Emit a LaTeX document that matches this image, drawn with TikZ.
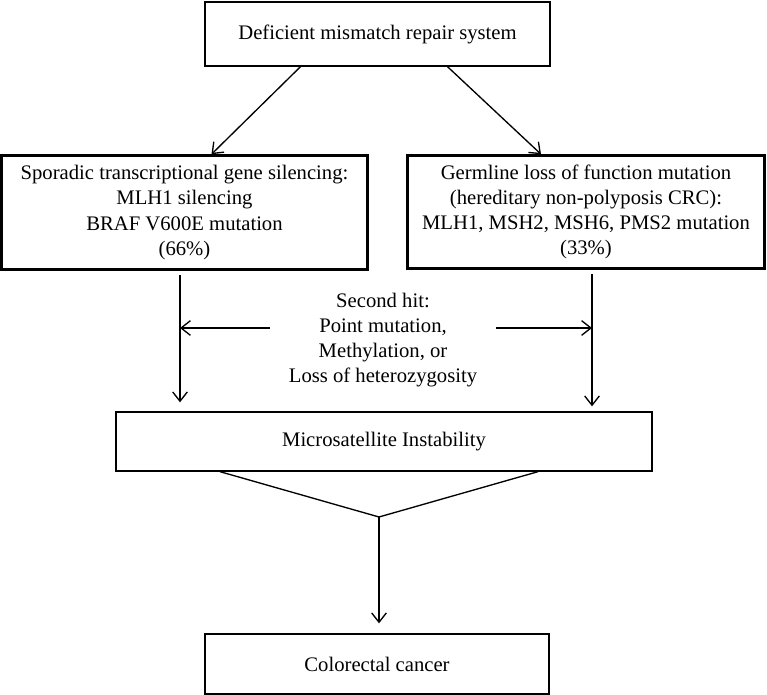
\documentclass[tikz,border=0pt]{standalone}
\usepackage{fontspec}
\setmainfont{Liberation Serif}
\usepackage{tikz}
\usetikzlibrary{positioning,calc,arrows.meta}

\tikzset{
    box/.style={draw, line width=1pt, inner sep=0pt, align=center},
    thickbox/.style={box, line width=1.9pt},
    link/.style={line width=1pt}
}

\begin{document}
\begin{tikzpicture}[x=0.75pt, y=-0.75pt, >={Straight Barb[length=7pt,width=11pt]},
    font=\fontsize{15.5}{18.8}\selectfont]
    \useasboundingbox (0,0) rectangle (767,695);

    % boxes
    \node[box, minimum width=345*0.75pt, minimum height=64*0.75pt] (mmr) at (377.5,34) {Deficient mismatch repair system};
    \node[thickbox, minimum width=366*0.75pt, minimum height=114*0.75pt] (sporadic) at (184.5,212.5)
        {Sporadic transcriptional gene silencing:\\MLH1 silencing\\BRAF V600E mutation\\(66\%)};
    \node[thickbox, minimum width=357*0.75pt, minimum height=113*0.75pt] (germline) at (586,212)
        {Germline loss of function mutation\\(hereditary non-polyposis CRC):\\MLH1, MSH2, MSH6, PMS2 mutation\\(33\%)};
    \node[align=center, inner sep=0pt] (hit) at (383,340)
        {Second hit:\\Point mutation,\\Methylation, or\\Loss of heterozygosity};
    \node[box, minimum width=536*0.75pt, minimum height=59*0.75pt] (msi) at (384,441.5) {Microsatellite Instability};
    \node[box, minimum width=344*0.75pt, minimum height=60*0.75pt] (crc) at (377,664) {Colorectal cancer};

    % helper points
    \coordinate (downL) at ($(sporadic.south)+(-4.5,4)$);
    \coordinate (downR) at ($(germline.south)+(6,4)$);
    \coordinate (hitL) at (270,328);
    \coordinate (hitR) at (496,328);
    \coordinate (vtip) at (379,517);

    % arrows from the top
    \draw[link, ->] ($(mmr.south)+(-77,0)$) -- ($(sporadic.north)+(27,0)$);
    \draw[link, ->] ($(mmr.south)+(70,0)$) -- ($(germline.north)+(-45,0)$);

    % down to MSI
    \draw[link, ->] (downL) -- ($(downL |- msi.north)+(0,-9)$);
    \draw[link, ->] (downR) -- ($(downR |- msi.north)+(0,-5)$);
    \draw[link, ->] (hitL) -- (hitL -| downL);
    \draw[link, ->] (hitR) -- (hitR -| downR);

    % merge to cancer
    \draw[link] ($(msi.south)+(-164,0)$) -- (vtip) -- ($(msi.south)+(154,0)$);
    \draw[link, ->] (vtip) -- ($(crc.north)+(2,-10)$);
\end{tikzpicture}
\end{document}
